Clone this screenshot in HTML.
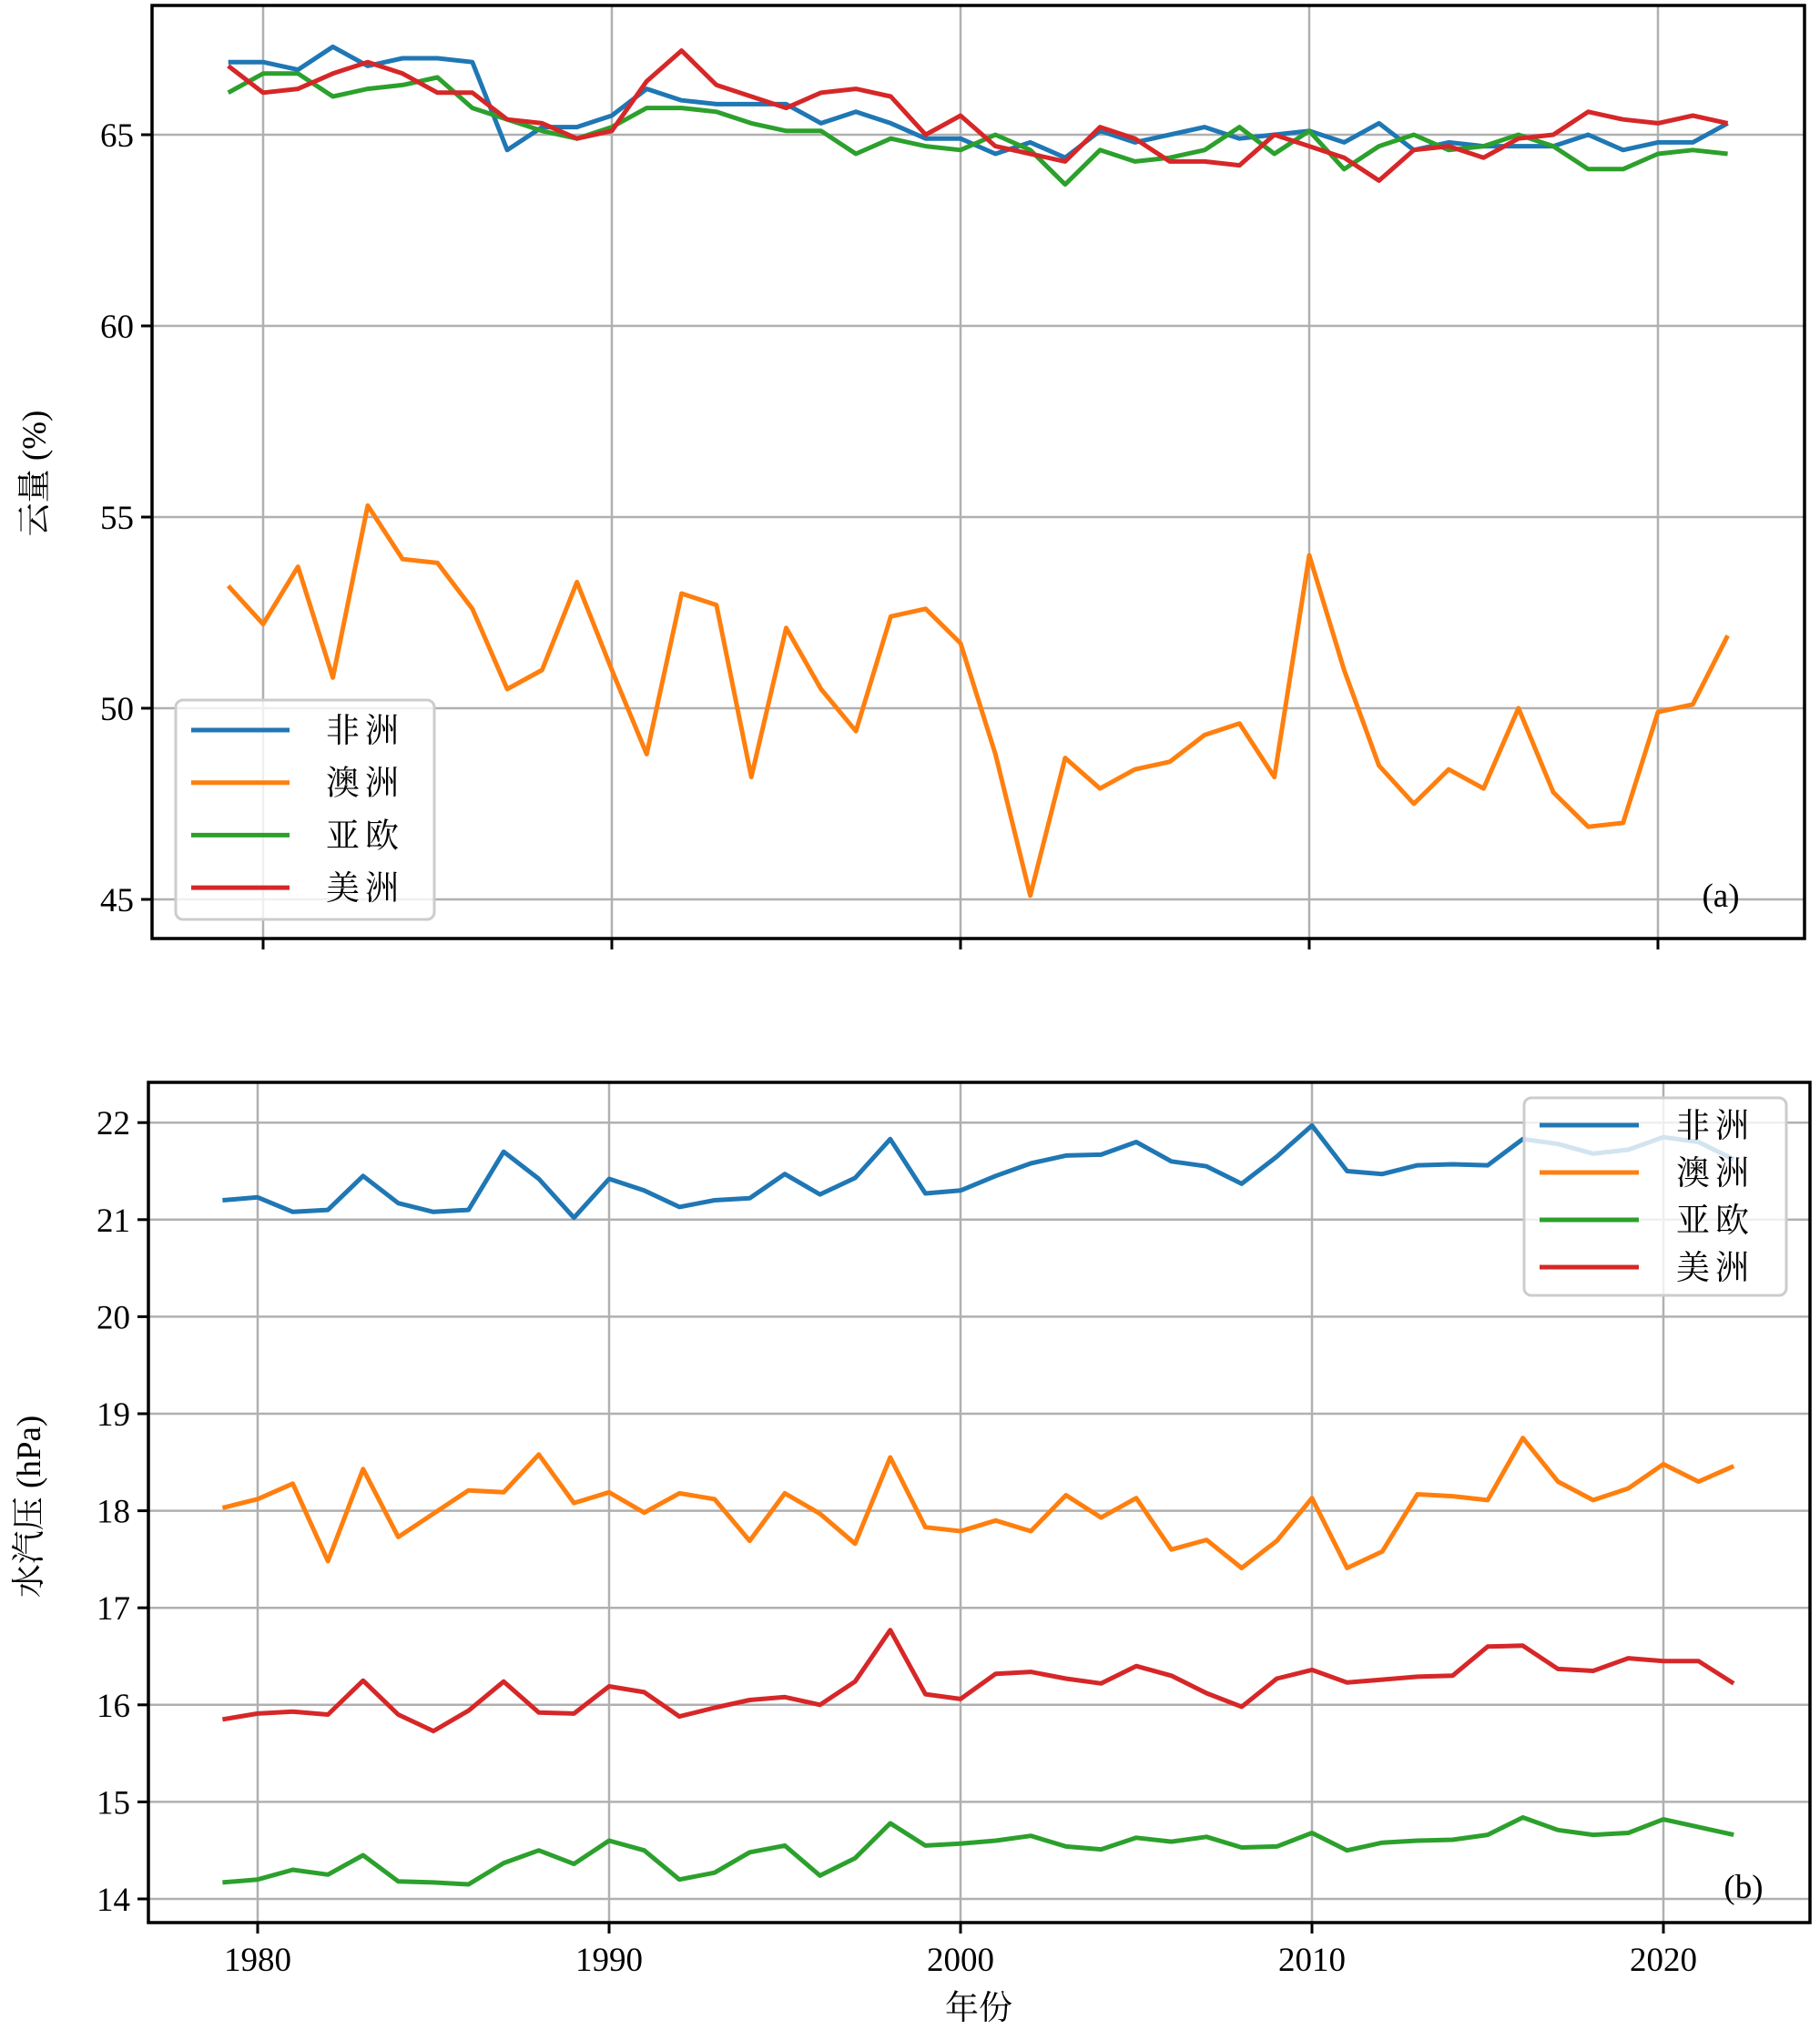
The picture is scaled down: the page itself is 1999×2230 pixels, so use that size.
<!DOCTYPE html>
<html><head><meta charset="utf-8"><style>
html,body{margin:0;padding:0;background:#fff;}
svg{display:block;}
text{font-family:"Liberation Serif","Noto Serif CJK SC",serif;fill:#000;}
</style></head><body>
<svg id="chart" width="1999" height="2230" viewBox="0 0 1999 2230" xmlns="http://www.w3.org/2000/svg"></svg>
<script>
const years = [];
for (let y = 1979; y <= 2022; y++) years.push(y);
const seriesNames = ["非洲","澳洲","亚欧","美洲"];
const colors = ["#1f77b4","#ff7f0e","#2ca02c","#d62728"];
const cloudAfrica = [66.9,66.9,66.7,67.3,66.8,67.0,67.0,66.9,64.6,65.2,65.2,65.5,66.2,65.9,65.8,65.8,65.8,65.3,65.6,65.3,64.9,64.9,64.5,64.8,64.4,65.1,64.8,65.0,65.2,64.9,65.0,65.1,64.8,65.3,64.6,64.8,64.7,64.7,64.7,65.0,64.6,64.8,64.8,65.3];
const cloudAustralia = [53.2,52.2,53.7,50.8,55.3,53.9,53.8,52.6,50.5,51.0,53.3,51.0,48.8,53.0,52.7,48.2,52.1,50.5,49.4,52.4,52.6,51.7,48.8,45.1,48.7,47.9,48.4,48.6,49.3,49.6,48.2,54.0,51.0,48.5,47.5,48.4,47.9,50.0,47.8,46.9,47.0,49.9,50.1,51.9];
const cloudEurasia = [66.1,66.6,66.6,66.0,66.2,66.3,66.5,65.7,65.4,65.1,64.9,65.2,65.7,65.7,65.6,65.3,65.1,65.1,64.5,64.9,64.7,64.6,65.0,64.6,63.7,64.6,64.3,64.4,64.6,65.2,64.5,65.1,64.1,64.7,65.0,64.6,64.7,65.0,64.7,64.1,64.1,64.5,64.6,64.5];
const cloudAmerica = [66.8,66.1,66.2,66.6,66.9,66.6,66.1,66.1,65.4,65.3,64.9,65.1,66.4,67.2,66.3,66.0,65.7,66.1,66.2,66.0,65.0,65.5,64.7,64.5,64.3,65.2,64.9,64.3,64.3,64.2,65.0,64.7,64.4,63.8,64.6,64.7,64.4,64.9,65.0,65.6,65.4,65.3,65.5,65.3];
const vapAfrica = [21.2,21.23,21.08,21.1,21.45,21.17,21.08,21.1,21.7,21.42,21.02,21.42,21.3,21.13,21.2,21.22,21.47,21.26,21.43,21.83,21.27,21.3,21.45,21.58,21.66,21.67,21.8,21.6,21.55,21.37,21.65,21.97,21.5,21.47,21.56,21.57,21.56,21.83,21.78,21.68,21.72,21.85,21.8,21.62];
const vapAustralia = [18.03,18.12,18.28,17.48,18.43,17.73,17.97,18.21,18.19,18.58,18.08,18.19,17.98,18.18,18.12,17.69,18.18,17.97,17.66,18.55,17.83,17.79,17.9,17.79,18.16,17.93,18.13,17.6,17.7,17.41,17.69,18.13,17.41,17.58,18.17,18.15,18.11,18.75,18.3,18.11,18.23,18.48,18.3,18.46];
const vapEurasia = [14.17,14.2,14.3,14.25,14.45,14.18,14.17,14.15,14.37,14.5,14.36,14.6,14.5,14.2,14.27,14.48,14.55,14.24,14.42,14.78,14.55,14.57,14.6,14.65,14.54,14.51,14.63,14.59,14.64,14.53,14.54,14.68,14.5,14.58,14.6,14.61,14.66,14.84,14.71,14.66,14.68,14.82,14.74,14.66];
const vapAmerica = [15.85,15.91,15.93,15.9,16.25,15.9,15.73,15.94,16.24,15.92,15.91,16.19,16.13,15.88,15.97,16.05,16.08,16.0,16.24,16.77,16.11,16.06,16.32,16.34,16.27,16.22,16.4,16.3,16.12,15.98,16.27,16.36,16.23,16.26,16.29,16.3,16.6,16.61,16.37,16.35,16.48,16.45,16.45,16.22];
const xTicks = [1980,1990,2000,2010,2020];
const cloudTicks = [45,50,55,60,65];
const vapTicks = [14,15,16,17,18,19,20,21,22];

const NS = "http://www.w3.org/2000/svg";
const svg = document.getElementById("chart");
function mk(tag, attrs, parent) {
  const e = document.createElementNS(NS, tag);
  for (const k in attrs) e.setAttribute(k, attrs[k]);
  (parent || svg).appendChild(e);
  return e;
}

function panel(cfg) {
  const g = mk("g", {});
  
  
  const xs = v => cfg.x0 + (v - 1980) * cfg.dx;
  const ys = v => cfg.y0 - (v - cfg.v0) * cfg.dy;
  xTicks.forEach(t => {
    const l = mk("line", {x1: xs(t), x2: xs(t), y1: cfg.top, y2: cfg.bottom, stroke: "#b0b0b0", "stroke-width": 2.5}, g);
    
    
    const tk = mk("line", {x1: xs(t), x2: xs(t), y1: cfg.bottom, y2: cfg.bottom + 12, stroke: "#000", "stroke-width": 3}, g);
    
    
    if (cfg.xLabels) {
      const tx = mk("text", {x: xs(t), y: cfg.bottom + 53, "font-size": 37, "text-anchor": "middle"}, g);
      tx.textContent = t;
      
      
    }
  });
  cfg.yTicks.forEach(t => {
    const l = mk("line", {x1: cfg.left, x2: cfg.right, y1: ys(t), y2: ys(t), stroke: "#b0b0b0", "stroke-width": 2.5}, g);
    
    
    const tk = mk("line", {x1: cfg.left - 12, x2: cfg.left, y1: ys(t), y2: ys(t), stroke: "#000", "stroke-width": 3}, g);
    
    
    const tx = mk("text", {x: cfg.left - 20, y: ys(t) + 13, "font-size": 37, "text-anchor": "end"}, g);
    tx.textContent = t;
    
    
  });
  cfg.series.forEach((arr, i) => {
    const pts = arr.map((v, j) => xs(years[j]).toFixed(1) + "," + ys(v).toFixed(1)).join(" ");
    const pl = mk("polyline", {points: pts, fill: "none", stroke: colors[i], "stroke-width": 5, "stroke-linejoin": "round"}, g);
    
    
  });
  const fr = mk("rect", {x: cfg.left, y: cfg.top, width: cfg.right - cfg.left, height: cfg.bottom - cfg.top, fill: "none", stroke: "#000", "stroke-width": 3.5}, g);
  
  
  const L = cfg.legend;
  const lg = mk("g", {}, g);
  
  
  mk("rect", {x: L.x, y: L.y, width: L.w, height: L.h, rx: 8, fill: "rgba(255,255,255,0.8)", stroke: "#cccccc", "stroke-width": 3}, lg);
  seriesNames.forEach((n, i) => {
    const yy = L.ly0 + i * L.step;
    const ln = mk("line", {x1: L.lx1, x2: L.lx2, y1: yy, y2: yy, stroke: colors[i], "stroke-width": 5}, lg);
    
    
    const tx = mk("text", {x: L.tx, y: yy + 13, "font-size": 37, "letter-spacing": 6}, lg);
    tx.textContent = n;
    
    
  });
  const pl = mk("text", {x: cfg.tag[0], y: cfg.tag[1], "font-size": 37, "text-anchor": "middle"}, g);
  pl.textContent = cfg.tagText;
  
  
  const yl = mk("text", {x: 0, y: 0, "font-size": 37, "text-anchor": "middle", transform: `translate(${cfg.ylab[0]},${cfg.ylab[1]}) rotate(-90)`}, g);
  yl.textContent = cfg.ylabText;
  
  
}

panel({name: "cloud-panel", left: 167, right: 1982, top: 6, bottom: 1031,
  x0: 289, dx: 38.3, v0: 65, y0: 148, dy: 42, yTicks: cloudTicks, xLabels: false,
  series: [cloudAfrica, cloudAustralia, cloudEurasia, cloudAmerica],
  legend: {x: 193, y: 769, w: 284, h: 241, lx1: 210, lx2: 318, ly0: 802, step: 57.7, tx: 358},
  tag: [1890, 996], tagText: "(a)", ylab: [50, 520], ylabText: "云量 (%)"});

panel({name: "vapor-panel", left: 163, right: 1988, top: 1189, bottom: 2112,
  x0: 283, dx: 38.6, v0: 14, y0: 2086, dy: 106.6, yTicks: vapTicks, xLabels: true,
  series: [vapAfrica, vapAustralia, vapEurasia, vapAmerica],
  legend: {x: 1674, y: 1206, w: 288, h: 217, lx1: 1691, lx2: 1800, ly0: 1236, step: 52, tx: 1841},
  tag: [1915, 2085], tagText: "(b)", ylab: [44, 1655], ylabText: "水汽压 (hPa)"});

const xl = mk("text", {x: 1075, y: 2218, "font-size": 37, "text-anchor": "middle"});
xl.textContent = "年份";


</script>
</body></html>
